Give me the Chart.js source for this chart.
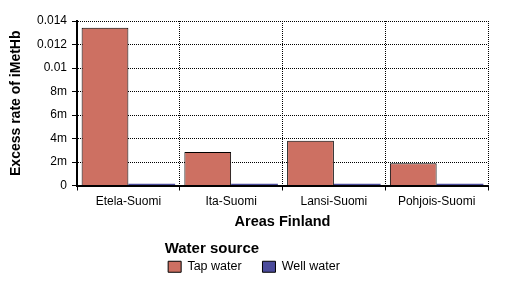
<!DOCTYPE html>
<html>
<head>
<meta charset="utf-8">
<script src="https://cdn.jsdelivr.net/npm/chart.js@4/dist/chart.umd.min.js"></script>
<style>
  html, body { margin: 0; padding: 0; background: #fff; }
  #wrap { width: 512px; height: 283px; }
</style>
</head>
<body>
<div id="wrap"><canvas id="myChart" width="512" height="283"></canvas></div>
<script>
// data
const areas = ["Etela-Suomi", "Ita-Suomi", "Lansi-Suomi", "Pohjois-Suomi"];
const tapWater = [0.01342, 0.00286, 0.0038, 0.0019];
const wellWater = [0.00014, 0.00014, 0.00014, 0.00014];
const yTickLabels = {0: "0", 0.002: "2m", 0.004: "4m", 0.006: "6m", 0.008: "8m", 0.01: "0.01", 0.012: "0.012", 0.014: "0.014"};

const fontFam = "'Liberation Sans', Arial, sans-serif";

const data = {
  labels: areas,
  datasets: [{
    label: 'Tap water',
    backgroundColor: '#cd7062',
    borderColor: '#000',
    borderWidth: 1,
    data: tapWater,
  }, {
    label: 'Well water',
    backgroundColor: '#4b4b9b',
    borderColor: '#4b4b9b',
    borderWidth: 0,
    data: wellWater,
  }]
};

const config = {
  type: 'bar',
  data: data,
  options: {
    responsive: false,
    animation: false,
    layout: { padding: { top: 21, right: 12, left: 8, bottom: 0 } },
    datasets: { bar: { categoryPercentage: 0.91, barPercentage: 1 } },
    plugins: {
      tooltip: { enabled: false },
      legend: {
        position: 'bottom',
        labels: {
          color: '#000',
          font: { family: fontFam, size: 12.5 },
          boxWidth: 13,
          boxHeight: 11,
          padding: 7,
          generateLabels: function(chart) {
            return chart.data.datasets.map(function(ds, i) {
              // a few trailing spaces widen the gap between the two entries
              return {
                text: i === 0 ? ds.label + '    ' : ds.label,
                fillStyle: ds.backgroundColor,
                strokeStyle: '#000',
                lineWidth: 1,
                datasetIndex: i
              };
            });
          }
        },
        title: {
          display: true,
          text: 'Water source',
          position: 'start',
          color: '#000',
          font: { family: fontFam, size: 15, weight: 'bold', lineHeight: 1 },
          padding: { top: 0, bottom: -2.5 }
        }
      }
    },
    scales: {
      x: {
        offset: true,
        grid: { offset: true, color: '#000', lineWidth: 1, tickLength: 5, drawTicks: true },
        border: { color: '#000', width: 2, dash: [1, 1] },
        ticks: { color: '#000', font: { family: fontFam, size: 12 }, padding: 4 },
        title: {
          display: true, text: 'Areas Finland', color: '#000',
          font: { family: fontFam, size: 14.5, weight: 'bold' }, padding: { top: 0, bottom: 10 }
        },
        afterFit: function(scale) { scale.height = 55.5; }
      },
      y: {
        min: 0,
        max: 0.014,
        grid: { color: '#000', lineWidth: 1, tickLength: 5 },
        border: { color: '#000', width: 2, dash: [1, 1] },
        ticks: {
          stepSize: 0.002,
          color: '#000',
          font: { family: fontFam, size: 12 },
          padding: 5,
          callback: function(v) {
            const k = Math.round(v * 1000) / 1000;
            return yTickLabels[k];
          }
        },
        title: {
          display: true, text: 'Excess rate of iMetHb', color: '#000',
          font: { family: fontFam, size: 14, weight: 'bold' }, padding: { top: 0, bottom: 6 }
        },
        afterFit: function(scale) { scale.width = 69; }
      },
      // empty axis on the right, only keeps a margin beside the plot
      yRight: {
        position: 'right',
        display: true,
        grid: { display: false },
        border: { display: false },
        ticks: { display: false },
        afterFit: function(scale) { scale.width = 12; }
      }
    }
  }
};

const myChart = new Chart(document.getElementById('myChart'), config);
</script>
</body>
</html>
